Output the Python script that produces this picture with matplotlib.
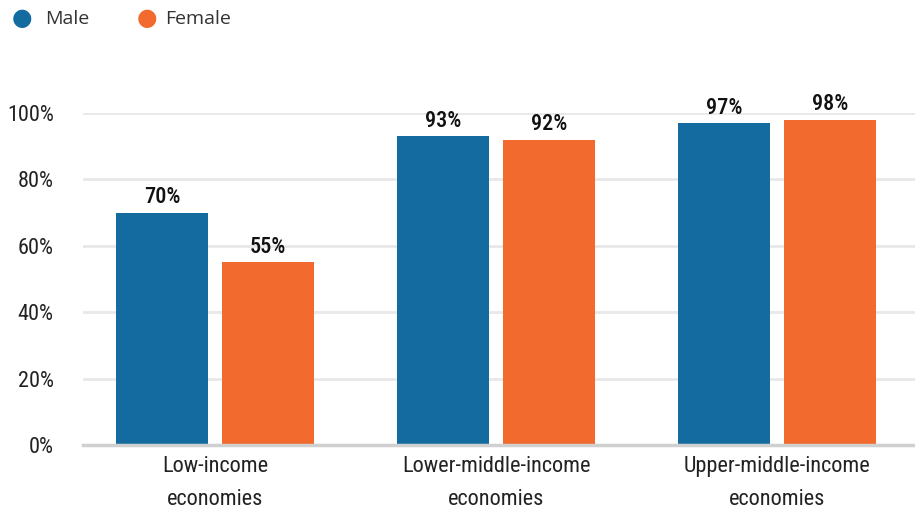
import matplotlib
matplotlib.use("Agg")
import matplotlib.pyplot as plt
from matplotlib import font_manager as fm
import numpy as np

categories = ["Low-income\neconomies", "Lower-middle-income\neconomies", "Upper-middle-income\neconomies"]
male = [70, 93, 97]
female = [55, 92, 98]
yticks = [0, 20, 40, 60, 80, 100]
series_names = ["Male", "Female"]

names = {f.name for f in fm.fontManager.ttflist}
cond = None
for cand in ["Roboto Condensed", "Liberation Sans Narrow", "DejaVu Sans Condensed", "Open Sans Condensed"]:
    if cand in names:
        cond = cand
        break
if cond is None:
    cond = "DejaVu Sans"

blue = "#136B9F"
orange = "#F26A2E"

fig = plt.figure(figsize=(9.15, 5.13), dpi=100)
ax = fig.add_axes([83/915, 68/513, 832/915, 332/513])

x = np.arange(len(categories))
w = 0.327
off = 0.1886
b1 = ax.bar(x - off, male, w, color=blue, zorder=3)
b2 = ax.bar(x + off, female, w, color=orange, zorder=3)

for bars, vals in ((b1, male), (b2, female)):
    for r, v in zip(bars, vals):
        ax.text(r.get_x() + r.get_width()/2, r.get_height() + 1.3, f"{v}%",
                ha="center", va="bottom", fontsize=16, fontweight="medium",
                family=cond, color="#111111", clip_on=False)

ax.set_xlim(-0.47, 2.49)
ax.set_ylim(0, 100)
ax.set_yticks(yticks)
ax.set_yticklabels([f"{t}%" for t in yticks], family=cond, fontsize=16, color="#222222")
ax.set_xticks(x)
ax.set_xticklabels(categories, family=cond, fontsize=16, color="#222222", linespacing=1.75)
ax.tick_params(axis="both", length=0)
ax.tick_params(axis="y", pad=21)
ax.tick_params(axis="x", pad=8)
for s in ["top", "right", "left"]:
    ax.spines[s].set_visible(False)
ax.spines["bottom"].set_color("#d0d0d0")
ax.spines["bottom"].set_linewidth(2.5)
ax.spines["bottom"].set_zorder(4)
ax.yaxis.grid(True, color="#e8e8e8", linewidth=2, zorder=0)
ax.set_axisbelow(True)

# legend
fig.text(22/915, 1 - 18/513, "\u25CF", color=blue, fontsize=17, ha="center", va="center")
fig.text(45/915, 1 - 19/513, series_names[0], color="#333333", fontsize=14, ha="left", va="center", family="Open Sans")
fig.text(147/915, 1 - 18/513, "\u25CF", color=orange, fontsize=17, ha="center", va="center")
fig.text(165/915, 1 - 19/513, series_names[1], color="#333333", fontsize=14, ha="left", va="center", family="Open Sans")

fig.savefig("out.png", dpi=100)
